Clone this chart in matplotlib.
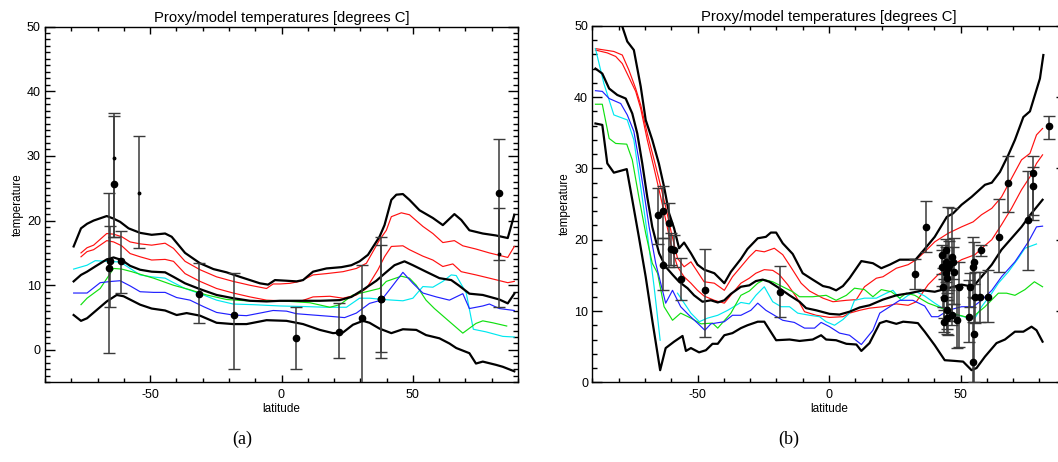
import matplotlib
matplotlib.use("Agg")
import matplotlib.pyplot as plt
import numpy as np
from matplotlib.ticker import MultipleLocator

# ---------------- panel (a) data ----------------
a_black_hi_lat = [-79.1, -76.3, -74, -71.5, -66.5, -63.9, -61.4, -58.2, -53.8, -49.4, -44.3, -41.8, -36.7, -31, -25.9, -20.9,
                  -15.8, -12, -8.2, -5.1, -2.5, 1.9, 5.7, 8.2, 12, 17.1, 22.8, 26.6, 29.7, 32.9, 37.3, 39.2, 41.8, 43.7,
                  46.2, 48.7, 52.5, 57.6, 61.4, 65.8, 68.4, 71.5, 76.6, 81.6, 86.1, 88.6]
a_black_hi = [16.0, 18.8, 19.5, 20.0, 20.7, 20.3, 19.8, 18.8, 18.1, 17.8, 18.0, 17.5, 15.0, 13.4, 12.5, 12.0,
              11.3, 10.8, 10.3, 10.1, 10.8, 10.7, 10.6, 10.8, 12.1, 12.6, 12.8, 13.1, 13.7, 14.7, 17.5, 19.3, 23.2, 24.0,
              24.1, 23.2, 21.6, 20.4, 19.3, 21.0, 20.1, 18.5, 18.0, 17.7, 17.3, 20.9]

a_red_hi_lat = [-76.3, -74, -71.5, -66.5, -63.9, -60.8, -57.6, -53.8, -49.4, -44.3, -41.1, -36.7, -31, -24.7, -18.4, -12,
                -5.7, -3.2, -0.6, 3.2, 7, 12, 17.1, 23.4, 28.5, 32.3, 37.3, 39.9, 41.8, 45.6, 48.7, 53.8, 57.6, 61.4,
                65.8, 69, 74, 79.1, 86.1, 88.6]
a_red_hi = [15.0, 15.8, 16.2, 18.0, 17.9, 17.5, 16.7, 16.4, 16.2, 16.5, 15.7, 13.7, 12.4, 11.3, 10.6, 10.0,
            9.5, 10.2, 10.2, 10.3, 10.6, 11.6, 11.8, 12.1, 12.6, 13.4, 17.0, 18.5, 20.6, 21.2, 20.9, 19.1, 18.0, 16.6,
            16.9, 16.1, 15.6, 15.0, 14.3, 16.0]

a_red_lo_lat = [-76.3, -74, -71.5, -66.5, -63.9, -60.8, -57.6, -53.8, -49.4, -44.3, -41.1, -36.7, -31, -24.7, -18.4, -12,
                -5.7, -0.6, 7, 12, 18.4, 23.4, 28.5, 32.3, 36.7, 39.2, 41.8, 46.2, 48.7, 53.8, 57.6, 61.4, 65.2, 68.4,
                74, 79.1, 86.1, 88.6]
a_red_lo = [14.4, 15.2, 15.5, 16.9, 16.7, 16.1, 14.9, 14.4, 13.9, 14.0, 13.7, 11.8, 10.6, 9.5, 8.8, 8.2,
            7.7, 7.6, 7.5, 8.2, 8.3, 8.0, 8.5, 9.5, 12.4, 14.4, 16.0, 16.1, 15.5, 14.5, 13.9, 12.9, 13.3, 12.1,
            11.6, 11.1, 10.4, 10.6]

a_black_mid_lat = [-79.1, -76.3, -74, -70.9, -66.5, -63.9, -60.8, -57.6, -53.8, -49.4, -44.3, -41.1, -36.7, -31, -24.7,
                   -18.4, -12, -5.7, -0.6, 7, 14.6, 22.2, 26.6, 31, 36.1, 39.2, 43, 46.8, 50, 55, 60.1, 64.6, 67.7,
                   71.5, 76.6, 82.9, 86.1, 88.6]
a_black_mid = [10.6, 11.6, 12.1, 12.9, 14.0, 14.3, 13.9, 13.0, 12.4, 12.1, 12.0, 11.3, 10.3, 9.4, 8.5,
               8.0, 7.6, 7.5, 7.6, 7.6, 7.6, 7.7, 8.2, 9.3, 10.7, 11.8, 13.1, 13.7, 13.1, 12.1, 11.1, 10.8, 9.9,
               8.7, 8.5, 7.8, 7.2, 8.7]

a_black_lo_lat = [-79.1, -76.3, -74, -66.5, -62.7, -60.1, -53.8, -49.4, -44.3, -39.9, -36.1, -31, -24.7, -18.4, -13.3,
                  -5.7, 1.9, 8.2, 14.6, 19.6, 23.4, 27.2, 31, 33.5, 37.3, 41.8, 46.2, 51.3, 55, 60.1, 63.9, 66.5, 71.5,
                  74, 76.6, 81.6, 84.2, 88.6]
a_black_lo = [5.4, 4.5, 4.9, 7.5, 8.5, 8.3, 7.0, 6.4, 6.1, 5.4, 5.7, 5.3, 4.2, 4.0, 4.0,
              4.6, 4.5, 4.0, 3.1, 2.6, 2.7, 3.9, 4.5, 4.2, 3.3, 2.6, 3.2, 3.1, 2.3, 1.8, 1.0, 0.3, -0.5,
              -2.1, -1.8, -2.3, -2.6, -3.3]

a_cyan_lat = [-79.1, -74, -70.9, -66.5, -61.4, -57.6, -53.8, -49.4, -44.3, -41.1, -36.7, -31, -24.7, -18.4, -10.8, -0.6,
              9.5, 17.1, 24.7, 29.7, 33.5, 38.6, 46.2, 50, 53.8, 57.6, 61.4, 64.6, 66.5, 70.3, 73, 77.8, 84.2, 88.6]
a_cyan = [12.5, 13.1, 13.8, 13.7, 13.6, 12.6, 11.6, 11.3, 11.1, 10.4, 9.5, 8.7, 7.7, 7.1, 7.0, 6.8,
          6.7, 6.6, 6.6, 8.0, 8.0, 7.8, 7.6, 8.0, 9.8, 9.7, 10.6, 11.6, 11.5, 8.8, 3.2, 2.8, 2.1, 2.0]

a_green_lat = [-76.3, -74, -69, -63.9, -60.8, -57, -53.8, -48.7, -41.1, -34.8, -28.5, -20.9, -13.3, -0.6, 3.2, 10.8,
               18.4, 22.2, 27.2, 32.3, 37.3, 39.9, 45.6, 48.7, 51.3, 55, 58.2, 63.3, 69, 74, 76.6, 80.4, 85.7]
a_green = [7.0, 8.0, 9.5, 12.6, 12.5, 12.1, 11.7, 11.1, 10.0, 9.3, 8.5, 7.8, 7.6, 7.6, 7.5, 7.3,
           6.6, 7.0, 8.5, 9.0, 9.5, 10.6, 11.4, 11.1, 10.0, 7.7, 6.4, 4.6, 2.6, 4.1, 4.5, 4.2, 3.7]

a_blue_lat = [-79.1, -74, -69, -64.6, -61.4, -57.6, -53.8, -48.7, -44.3, -39.9, -34.8, -29.7, -24.7, -18.4, -13.3, -8.2,
              -3.2, 1.9, 5.7, 12, 18.4, 24, 28.5, 33.5, 38, 41.1, 46.2, 50, 53.8, 58.9, 63.9, 69, 71.5, 76.6, 79.1,
              82.9, 88.6]
a_blue = [8.8, 8.8, 10.4, 10.6, 10.7, 9.9, 9.0, 8.9, 8.9, 8.1, 7.7, 6.7, 5.8, 5.4, 5.3, 5.7,
          6.1, 6.0, 5.6, 5.4, 5.2, 5.0, 5.7, 7.2, 7.7, 9.3, 12.0, 10.3, 8.8, 8.2, 7.7, 8.7, 6.4, 6.8, 7.1,
          6.4, 6.1]

# proxy points (a): latitude, value, lower, upper
a_pt_lat = [-65.6, -65.2, -63.9, -61.1, -31.3, -18.1, 5.4, 21.8, 30.6, 38.0, 38.0, 82.9]
a_pt_t = [12.7, 13.8, 25.6, 13.8, 8.6, 5.4, 1.8, 2.8, 5.0, 7.8, 7.8, 24.2]
a_pt_lo = [-0.5, 6.6, 17.4, 8.8, 4.2, -2.9, -3.0, -1.3, -8.0, -1.3, -0.3, 6.6]
a_pt_hi = [24.2, 19.1, 36.7, 18.4, 13.4, 11.9, 6.6, 7.3, 13.1, 17.5, 16.3, 32.6]
a_sm_lat = [-63.9, -54.2, 82.9]
a_sm_t = [29.6, 24.2, 14.9]
a_sm_lo = [17.4, 15.8, 13.9]
a_sm_hi = [36.1, 33.1, 22.0]

# ---------------- panel (b) data ----------------
b_black_hi_lat = [-81.0, -78.6, -76.7, -74.2, -71.6, -69.7, -67.2, -64.7, -62.7, -60.8, -58.9, -57, -55.1, -52.5, -50,
                  -47.5, -43.6, -39.8, -37.3, -33.5, -31, -27.1, -24, -22.1, -20.1, -17.6, -13.8, -10, -6.2, -2.3,
                  0.2, 2.7, 5.3, 7.8, 12.3, 16.7, 19.9, 23.1, 26.9, 30.1, 32.9, 36.4, 40.2, 44.8, 47.2, 50.4, 54.2,
                  59.3, 61.9, 65.0, 68.2, 70.7, 73.9, 76.4, 78.3, 80.2, 81.5]
b_black_hi = [52.0, 49.9, 47.8, 46.6, 41.5, 36.8, 34.0, 30.7, 27.4, 23.7, 21.6, 18.8, 19.6, 18.1, 16.5,
              15.8, 15.3, 13.9, 15.5, 17.3, 18.7, 20.2, 20.4, 21.0, 21.0, 19.5, 18.0, 15.3, 14.4, 13.5,
              13.3, 12.9, 13.5, 14.6, 17.0, 16.7, 16.0, 16.5, 17.2, 17.2, 17.2, 18.7, 20.4, 23.2, 23.7, 24.9, 26.0,
              27.7, 28.0, 29.5, 31.9, 34.0, 37.2, 38.0, 40.3, 42.6, 45.9]

b_red_hi_lat = [-88.8, -81.8, -78.6, -76.1, -73.5, -71.6, -69.1, -66.5, -64.6, -62.1, -59.9, -57.6, -55.1, -52.5, -50,
                -47.5, -43.6, -39.8, -36.7, -33.5, -30.3, -27.8, -24.6, -20.8, -17.6, -14.4, -10.6, -7.4, -2.3, 1.5,
                6.6, 10.4, 13.5, 18, 20.5, 25.6, 30.1, 33.2, 36.4, 40.2, 45.3, 50.4, 54.8, 58, 61.9, 65.6, 69.4,
                73.2, 76.4, 78.9, 81.2]
b_red_hi = [46.8, 46.4, 45.9, 43.8, 41.2, 38.9, 34.9, 31.2, 28.4, 24.6, 20.9, 17.4, 16.2, 16.9, 15.5,
            14.1, 13.9, 12.9, 14.8, 16.2, 17.6, 18.5, 18.3, 18.8, 17.9, 16.1, 13.9, 12.8, 11.8, 11.3,
            11.5, 11.6, 13.4, 14.6, 14.8, 16.0, 16.5, 17.2, 18.3, 19.7, 20.9, 21.8, 22.5, 23.5, 24.4, 26.0, 28.6,
            31.2, 32.1, 34.7, 35.6]

b_red_lo_lat = [-88.8, -84.3, -81.1, -78.6, -76.1, -73.5, -71.6, -69.1, -66.5, -64, -62.1, -59.9, -57.6, -55.1, -52.5,
                -50, -47.5, -43.6, -39.8, -36.7, -33.5, -30.3, -27.8, -24.6, -21.4, -18.9, -15.7, -12.5, -9.3, -4.9,
                0.2, 5.3, 7.8, 11.7, 15.4, 20.5, 25.6, 30.1, 33.2, 37.7, 41.5, 45.3, 50.4, 55.5, 58.7, 61.9, 65.6,
                69.4, 73.2, 76.4, 78.9, 81.2]
b_red_lo = [46.6, 46.2, 45.7, 44.7, 42.8, 40.8, 38.4, 34.0, 30.0, 26.0, 22.8, 19.0, 16.2, 14.8, 13.9,
            12.9, 12.1, 11.5, 11.1, 12.5, 13.9, 14.6, 15.3, 15.8, 15.7, 15.1, 13.7, 12.0, 9.9, 9.4,
            9.1, 9.2, 9.7, 10.1, 10.4, 10.6, 11.0, 10.8, 11.3, 13.7, 15.1, 16.0, 17.2, 17.9, 19.0, 20.0, 22.1,
            24.4, 27.0, 28.8, 30.7, 31.9]

b_black_mid_lat = [-88.8, -86.2, -83.6, -80.5, -77.3, -74.8, -72.9, -71, -69.1, -67.2, -64.6, -62.1, -59.5, -57, -53.8,
                   -51.3, -48.1, -44.9, -42.3, -39.8, -37.3, -33.5, -30.3, -27.8, -25.2, -22.7, -18.9, -15.0, -11.2,
                   -8.7, -4.9, 0.2, 4.0, 7.8, 11.7, 15.4, 20.5, 25.6, 30.7, 35.8, 40.2, 45.3, 50.4, 54.8, 58, 61.9,
                   65.6, 69.4, 73.2, 77, 81.2]
b_black_mid = [44.0, 43.3, 41.2, 40.3, 39.8, 37.7, 34.9, 30.7, 26.0, 21.8, 18.1, 16.2, 15.1, 14.1, 13.2,
               12.2, 11.3, 11.5, 11.2, 11.5, 12.4, 13.4, 13.6, 14.2, 14.4, 14.1, 13.2, 12.2, 11.3,
               10.4, 10.1, 9.6, 9.5, 9.9, 10.5, 10.8, 11.6, 12.2, 12.5, 12.9, 12.7, 13.2, 13.7, 13.4, 14.8, 16.5,
               18.6, 20.2, 21.8, 23.7, 25.6]

b_blue_lat = [-88.8, -86.2, -83.6, -79.2, -76.7, -74.2, -72.3, -70.3, -68.4, -65.9, -64, -62.1, -59.5, -56.4, -53.2,
              -50, -47.2, -44.9, -39.8, -36.7, -33.5, -29.7, -27.1, -24.0, -20.8, -17.6, -13.2, -9.3, -5.5, -3.0,
              0.2, 4.0, 7.8, 12.3, 16.7, 19.3, 23.1, 26.9, 31.9, 36.4, 39, 41.5, 45.3, 50.4, 54.8, 58, 61.9, 65.6,
              70.7, 75.8, 78.9, 81.2]
b_blue = [40.9, 40.8, 39.8, 39.1, 37.5, 35.2, 31.2, 26.5, 21.8, 16.7, 13.9, 11.1, 12.9, 10.6, 9.4,
          8.3, 7.3, 8.2, 8.5, 9.4, 9.4, 10.1, 11.1, 10.1, 9.4, 8.7, 8.4, 7.6, 7.6, 8.4,
          7.8, 6.9, 6.6, 5.3, 7.3, 9.7, 10.6, 11.5, 11.5, 10.7, 9.2, 9.2, 10.1, 10.6, 10.6, 11.5, 12.9, 14.8,
          16.9, 19.7, 21.8, 21.9]

b_cyan1_lat = [-88.8, -85.6, -81.8, -76.7, -74.2, -71.6, -69.1, -66.5, -64.2]
b_cyan1 = [46.8, 41.9, 37.5, 36.8, 34.0, 27.4, 20.9, 13.4, 5.9]
b_cyan2_lat = [-57.6, -52.5, -49.3, -46.2, -42.3, -38.5, -33.5, -30.3, -27.8, -24.6, -21.4, -18.2, -15.0, -11.9, -7.4,
               -3.6, -1.1, 2.1, 5.3, 7.8, 9.7, 13.5, 18, 21.8, 24.3, 27.5, 30.1, 33.2, 36.4, 40.2, 45.3, 49.1, 53.5,
               55.5, 58, 61.9, 64.4, 68.2, 72, 74.5, 78.9]
b_cyan2 = [12.5, 9.7, 8.5, 9.0, 9.4, 10.1, 11.2, 11.0, 12.2, 13.4, 11.3, 10.6, 10.6, 9.7, 9.4,
           9.2, 8.5, 8.0, 8.8, 9.7, 11.5, 11.8, 11.8, 12.5, 12.9, 11.5, 12.2, 12.7, 12.1, 11.1, 9.9, 9.4, 9.0,
           9.0, 10.6, 12.5, 13.9, 15.5, 17.4, 18.8, 19.4]

b_green_lat = [-88.8, -86.2, -83.6, -81.1, -76.9, -74.8, -72.3, -69.7, -67.2, -65.2, -62.7, -59.5, -56.4, -52.5, -48.7,
               -44.3, -42.3, -37.3, -33.5, -30.3, -27.1, -24.6, -21.4, -17.6, -13.8, -11.2, -6.2, -1.1, 2.7, 6.6,
               9.7, 13.5, 16.7, 19.9, 23.7, 26.9, 29.4, 32.6, 37.7, 42.8, 46.6, 51.7, 54.8, 59.3, 64.4, 67.5, 70.7,
               74.5, 78.1, 81.2]
b_green = [39.0, 39.0, 34.2, 33.5, 33.4, 31.2, 26.0, 20.9, 16.7, 15.3, 10.6, 8.7, 9.7, 9.0, 8.2,
           8.3, 7.6, 9.7, 12.2, 12.8, 13.9, 14.4, 14.1, 13.4, 12.7, 12.0, 12.0, 12.2, 11.5, 12.2,
           13.2, 13.0, 12.0, 13.0, 12.7, 11.8, 12.5, 12.2, 11.1, 10.4, 9.7, 9.2, 9.2, 10.6, 12.5, 12.5, 12.2,
           13.0, 14.1, 13.4]

b_black_lo_lat = [-88.8, -86.2, -84.3, -81.8, -76.9, -74.8, -72.3, -69.7, -67.2, -64.2, -62.1, -58.9, -55.7, -54.4,
                  -52.5, -49.4, -46.8, -44.3, -42.3, -39.8, -36.7, -33.5, -31, -27.1, -24.6, -20.1, -15, -11.2, -6.2,
                  -3.0, -1.1, 2.7, 6.6, 10.4, 12.3, 15.4, 19.3, 21.8, 25.6, 28.2, 31.3, 33.8, 36.4, 40.2, 44, 47.8,
                  51, 54.2, 56.1, 59.3, 63.7, 66.9, 70.7, 73.9, 77, 78.9, 81.2]
b_black_lo = [36.3, 36.1, 30.7, 29.4, 29.9, 25.6, 20.4, 14.8, 8.7, 1.7, 4.8, 5.7, 6.5, 4.4,
              4.8, 4.2, 4.5, 5.4, 5.4, 6.6, 6.9, 7.6, 8.0, 8.5, 8.5, 5.9, 6.0, 5.8, 6.0,
              6.6, 6.0, 5.9, 5.4, 5.3, 4.4, 5.5, 8.3, 8.6, 8.2, 8.5, 8.4, 8.3, 7.1, 5.2, 3.1, 3.0,
              2.9, 1.7, 2.0, 3.6, 5.5, 6.0, 7.1, 7.1, 7.8, 7.3, 5.7]

b_pt_lat = [-65.0, -63.1, -63.1, -61.0, -60.2, -58.9, -56.4, -47.2, -18.5, 32.8, 37.0,
            43.1, 43.1, 43.4, 43.7, 43.7, 44.4, 44.4, 44.4, 44.7, 44.7, 44.9, 45.3, 45.7, 46.6, 47.0, 47.5, 46.6,
            48.7, 49.3, 53.2, 53.8, 54.8, 55.2, 55.2, 54.6, 55.4, 57.8, 57.5, 60.5, 64.8, 68.0, 75.5, 77.4, 77.4,
            83.7]
b_pt_t = [23.4, 24.0, 16.4, 22.4, 18.7, 18.5, 14.5, 12.9, 12.7, 15.2, 21.8,
          17.8, 16.2, 13.4, 11.8, 8.5, 18.6, 16.9, 15.3, 14.6, 9.0, 10.1, 16.0, 16.5, 17.6, 16.9, 15.5, 9.4,
          8.7, 13.4, 9.2, 13.4, 16.2, 16.9, 6.8, 2.9, 11.9, 18.5, 11.9, 12.0, 20.4, 27.9, 22.7, 29.4, 27.5,
          36.0]
b_pt_lo = [19.4, 20.3, 12.9, 16.2, 16.5, 16.2, 11.5, 6.3, 9.1, 13.1, 18.3,
           15.2, 13.5, 10.5, 9.0, 7.0, 16.0, 14.0, 12.0, 11.5, 6.8, 7.5, 6.6, 13.0, 8.6, 14.5, 11.0, 8.0,
           4.8, 5.0, 5.6, 10.5, 12.0, 13.8, 0.0, -2.0, 8.3, 17.7, 8.4, 8.4, 15.5, 23.9, 15.8, 23.5, 22.8,
           34.1]
b_pt_hi = [27.3, 27.6, 20.3, 25.2, 20.9, 20.7, 17.4, 18.7, 16.3, 17.3, 25.4,
           19.2, 18.5, 16.0, 14.5, 10.1, 20.1, 19.0, 17.5, 17.0, 11.5, 12.5, 24.6, 19.8, 24.5, 19.0, 20.3, 11.0,
           13.4, 16.9, 14.3, 15.3, 20.4, 19.7, 11.8, 8.5, 15.5, 19.2, 15.5, 15.7, 25.7, 31.7, 29.7, 31.7, 30.2,
           37.3]

# ---------------- drawing ----------------
plt.rcParams['font.family'] = ['Liberation Sans', 'DejaVu Sans']
plt.rcParams['axes.unicode_minus'] = False

W, H = 1058, 462
fig = plt.figure(figsize=(W / 100, H / 100), dpi=100)
ax_a = fig.add_axes([45 / W, (H - 382.3) / H, (518 - 45) / W, (382.3 - 26.5) / H])
ax_b = fig.add_axes([592.3 / W, (H - 382.3) / H, (1065.7 - 592.3) / W, (382.3 - 25.8) / H])

BLK = dict(color='black', lw=1.6, zorder=3)
THIN = dict(lw=0.85, zorder=2)
RED, BLUE, GREEN, CYAN = '#ff1010', '#2020ff', '#10e010', '#00e8f0'


def style(ax, ylo, yminor):
    ax.set_xlim(-90, 90)
    ax.set_ylim(ylo, 50)
    ax.xaxis.set_major_locator(MultipleLocator(50))
    ax.xaxis.set_minor_locator(MultipleLocator(10))
    ax.yaxis.set_major_locator(MultipleLocator(10))
    ax.yaxis.set_minor_locator(MultipleLocator(yminor))
    ax.tick_params(which='both', direction='in', top=True, right=True, width=1.0, labelsize=9)
    ax.tick_params(axis='x', which='major', length=5, pad=5)
    ax.tick_params(axis='x', which='minor', length=3)
    ax.tick_params(axis='y', which='major', length=7, pad=3)
    ax.tick_params(axis='y', which='minor', length=3.5)
    for s in ax.spines.values():
        s.set_linewidth(1.0)
    ax.set_title('Proxy/model temperatures [degrees C]', fontsize=10.7, pad=3.5)
    ax.set_xlabel('latitude', fontsize=8.5, labelpad=1)
    ax.set_ylabel('temperature', fontsize=8.4, labelpad=2.5)


def proxies(ax, lat, t, lo, hi, ms):
    t = np.asarray(t)
    err = [t - np.asarray(lo), np.asarray(hi) - t]
    ax.errorbar(lat, t, yerr=err, fmt='o', color='black', ms=ms, ecolor='#3a3a3a',
                elinewidth=1.1, capsize=4, capthick=1.0, zorder=5)


# panel (a)
ax_a.plot(a_black_hi_lat, a_black_hi, **BLK)
ax_a.plot(a_red_hi_lat, a_red_hi, color=RED, **THIN)
ax_a.plot(a_red_lo_lat, a_red_lo, color=RED, **THIN)
ax_a.plot(a_black_mid_lat, a_black_mid, **BLK)
ax_a.plot(a_cyan_lat, a_cyan, color=CYAN, **THIN)
ax_a.plot(a_green_lat, a_green, color=GREEN, **THIN)
ax_a.plot(a_blue_lat, a_blue, color=BLUE, **THIN)
ax_a.plot(a_black_lo_lat, a_black_lo, **BLK)
proxies(ax_a, a_pt_lat, a_pt_t, a_pt_lo, a_pt_hi, 4.5)
proxies(ax_a, a_sm_lat, a_sm_t, a_sm_lo, a_sm_hi, 1.8)
style(ax_a, -5, 1)

# panel (b)
ax_b.plot(b_black_hi_lat, b_black_hi, **BLK)
ax_b.plot(b_red_hi_lat, b_red_hi, color=RED, **THIN)
ax_b.plot(b_red_lo_lat, b_red_lo, color=RED, **THIN)
ax_b.plot(b_black_mid_lat, b_black_mid, **BLK)
ax_b.plot(b_cyan1_lat, b_cyan1, color=CYAN, **THIN)
ax_b.plot(b_cyan2_lat, b_cyan2, color=CYAN, **THIN)
ax_b.plot(b_green_lat, b_green, color=GREEN, **THIN)
ax_b.plot(b_blue_lat, b_blue, color=BLUE, **THIN)
ax_b.plot(b_black_lo_lat, b_black_lo, **BLK)
proxies(ax_b, b_pt_lat, b_pt_t, b_pt_lo, b_pt_hi, 4.5)
style(ax_b, 0, 2)

fig.text(242 / W, 1 - 439 / H, '(a)', family=['Liberation Serif', 'DejaVu Serif'], fontsize=13,
         ha='center', va='center')
fig.text(789 / W, 1 - 439 / H, '(b)', family=['Liberation Serif', 'DejaVu Serif'], fontsize=13,
         ha='center', va='center')

fig.savefig('out.png', dpi=100)
